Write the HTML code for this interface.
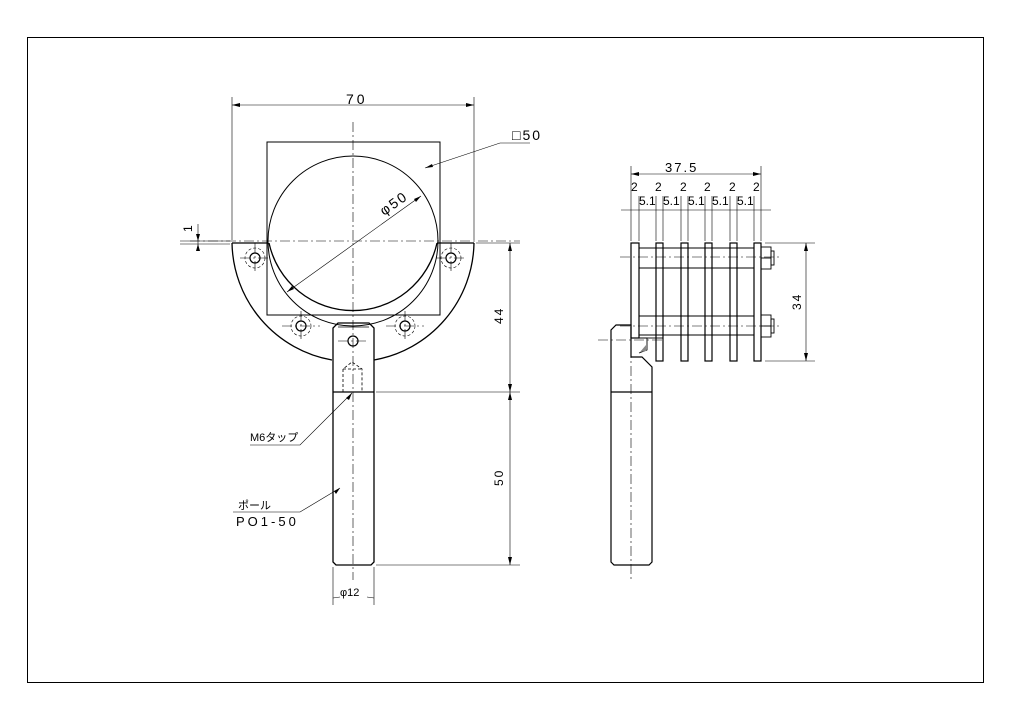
<!DOCTYPE html>
<html><head><meta charset="utf-8"><style>
html,body{margin:0;padding:0;background:#fff;}
svg{display:block;}
text{font-family:"Liberation Sans","Noto Sans CJK JP",sans-serif;font-size:12px;fill:#000;}
</style></head><body>
<svg width="1024" height="724" viewBox="0 0 1024 724" xmlns="http://www.w3.org/2000/svg">
<rect x="27.5" y="37.5" width="956" height="645" fill="none" stroke="#000" stroke-width="1"/>
<g fill="none" stroke="#000" stroke-width="1">
<rect x="267" y="142" width="173" height="173"/>
<circle cx="353" cy="241" r="85"/>
<path d="M269 243 A86 86 0 0 0 437 243" stroke-width="1.3"/>
<path d="M232 243 L268 243 M437 243 L474 243" stroke-width="1.3"/>
<path d="M232 243 A121 121 0 0 0 332 360 M374 360 A121 121 0 0 0 474 243" stroke-width="1.3"/>
<path d="M338 323 L369 323 L374 328 L374 562 L371 565 L336 565 L333 562 L333 328 Z" stroke-width="1.3"/>
<line x1="333" y1="392" x2="374" y2="392" stroke-width="1.3"/>
<line x1="338" y1="327" x2="369" y2="327" stroke-width="0.7"/>
<path d="M343 392 L343 369 L352 362 L362 369 L362 392 M343 369 L362 369" stroke-dasharray="3,2" stroke-width="0.8"/>
<circle cx="255" cy="258" r="5" stroke-width="1.2"/><circle cx="255" cy="258" r="10" stroke-dasharray="3,2" stroke-width="0.6"/>
<circle cx="451" cy="258" r="5" stroke-width="1.2"/><circle cx="451" cy="258" r="10" stroke-dasharray="3,2" stroke-width="0.6"/>
<circle cx="301" cy="326" r="5" stroke-width="1.2"/><circle cx="301" cy="326" r="10" stroke-dasharray="3,2" stroke-width="0.6"/>
<circle cx="405" cy="326" r="5" stroke-width="1.2"/><circle cx="405" cy="326" r="10" stroke-dasharray="3,2" stroke-width="0.6"/>
<circle cx="353" cy="341" r="5" stroke-width="1.2"/>
</g>
<g stroke="#000" stroke-width="0.6" stroke-dasharray="10,3,2,3" fill="none">
<line x1="353" y1="122" x2="353" y2="580"/>
<line x1="190" y1="241" x2="520" y2="241"/>
<line x1="240" y1="258" x2="270" y2="258"/><line x1="255" y1="243" x2="255" y2="273"/>
<line x1="436" y1="258" x2="466" y2="258"/><line x1="451" y1="243" x2="451" y2="273"/>
<line x1="282" y1="326" x2="320" y2="326"/><line x1="301" y1="311" x2="301" y2="341"/>
<line x1="386" y1="326" x2="424" y2="326"/><line x1="405" y1="311" x2="405" y2="341"/>
<line x1="338" y1="341" x2="368" y2="341"/>
</g>
<g stroke="#000" stroke-width="0.6" fill="none">
<line x1="232" y1="97" x2="232" y2="240"/><line x1="474" y1="97" x2="474" y2="240"/>
<line x1="232" y1="105" x2="474" y2="105"/>
<line x1="287" y1="292" x2="421" y2="196"/>
<polyline points="425,168 500,143 530,143"/>
<line x1="180" y1="241" x2="230" y2="241"/><line x1="180" y1="244" x2="230" y2="244"/>
<line x1="198" y1="224" x2="198" y2="250"/>
<line x1="476" y1="243" x2="520" y2="243"/><line x1="376" y1="392" x2="520" y2="392"/><line x1="376" y1="565" x2="520" y2="565"/>
<line x1="510" y1="243" x2="510" y2="565"/>
<line x1="333" y1="567" x2="333" y2="605"/><line x1="374" y1="567" x2="374" y2="605"/>
<line x1="333" y1="598" x2="340" y2="597"/><line x1="367" y1="597" x2="374" y2="598"/>
<polyline points="250,445 300,445 352,393"/>
<polyline points="233,512 300,512 340,488"/>
</g>
<g fill="#000">
<path d="M232 105 l8 -2 v4z M474 105 l-8 -2 v4z"/>
<path d="M510 243 l-2 8 h4z M510 392 l-2 -8 h4z M510 392 l-2 8 h4z M510 565 l-2 -8 h4z"/>
<path d="M198 241 l-2 -7 h4z M198 244 l-2 7 h4z"/>
<path d="M421 196 l-7 3 l2 3z M287 292 l7 -3 l-2 -3z M425 168 l7 -4 l1 3z M352 393 l-3 7 l-3 -2z M340 488 l-4 6 l-2 -3z"/>
</g>
<text x="346" y="104" style="font-size:14px;letter-spacing:3px">70</text>
<text x="512" y="140" style="font-size:14px;letter-spacing:2px">□50</text>
<text x="384" y="216" transform="rotate(-35 384 216)" style="font-size:14px;letter-spacing:2px">φ50</text>
<text x="192" y="232" transform="rotate(-90 192 232)">1</text>
<text x="503" y="324" transform="rotate(-90 503 324)" style="letter-spacing:2px">44</text>
<text x="503" y="486" transform="rotate(-90 503 486)" style="letter-spacing:2px">50</text>
<text x="340" y="596" style="font-size:11px">φ12</text>
<text x="250" y="441" style="font-size:11px">M6タップ</text>
<text x="238" y="509" style="font-size:11px">ポール</text>
<text x="236" y="526" style="font-size:13px;letter-spacing:3px">PO1-50</text>
<g fill="none" stroke="#000" stroke-width="1.2">
<path d="M616 325 L631 325 L631 357 L642 357 L652 367 L652 562 L649 565 L614 565 L611 562 L611 330 Z"/>
<line x1="611" y1="392" x2="652" y2="392"/>
<rect x="631" y="243" width="8" height="95"/>
<rect x="656" y="243" width="7" height="118"/>
<rect x="681" y="243" width="7" height="118"/>
<rect x="705" y="243" width="7" height="118"/>
<rect x="730" y="243" width="7" height="118"/>
<rect x="754" y="243" width="7" height="118"/>
<g stroke-width="0.9">
<line x1="639" y1="248" x2="754" y2="248"/><line x1="639" y1="268" x2="754" y2="268"/>
<line x1="639" y1="316" x2="754" y2="316"/><line x1="639" y1="335" x2="754" y2="335"/>
<rect x="761" y="247" width="10" height="22"/><rect x="771" y="251" width="3" height="14"/>
<rect x="761" y="315" width="10" height="22"/><rect x="771" y="319" width="3" height="14"/>
<line x1="761" y1="258" x2="771" y2="258"/><line x1="761" y1="326" x2="771" y2="326"/>
<polyline points="639,338 647,338 647,350 639,353"/>
<line x1="647" y1="338" x2="663" y2="338"/>
</g>
</g>
<path d="M640 352 L646 345 L646 351 Z" fill="#888"/>
<g stroke="#000" stroke-width="0.6" stroke-dasharray="10,3,2,3" fill="none">
<line x1="620" y1="257" x2="782" y2="257"/><line x1="620" y1="326" x2="782" y2="326"/>
<line x1="598" y1="340" x2="663" y2="340"/>
<line x1="631" y1="330" x2="631" y2="580"/>
</g>
<g stroke="#000" stroke-width="0.6" fill="none">
<line x1="631" y1="166" x2="631" y2="241"/><line x1="761" y1="166" x2="761" y2="241"/>
<line x1="631" y1="174" x2="761" y2="174"/>
<line x1="639" y1="196" x2="639" y2="241"/><line x1="656" y1="196" x2="656" y2="241"/><line x1="663" y1="196" x2="663" y2="241"/>
<line x1="681" y1="196" x2="681" y2="241"/><line x1="688" y1="196" x2="688" y2="241"/><line x1="705" y1="196" x2="705" y2="241"/>
<line x1="712" y1="196" x2="712" y2="241"/><line x1="730" y1="196" x2="730" y2="241"/><line x1="737" y1="196" x2="737" y2="241"/>
<line x1="754" y1="196" x2="754" y2="241"/>
<line x1="621" y1="210" x2="771" y2="210"/>
<line x1="765" y1="243" x2="815" y2="243"/><line x1="765" y1="361" x2="815" y2="361"/>
<line x1="806" y1="243" x2="806" y2="361"/>
</g>
<g fill="#000">
<path d="M631 174 l8 -2 v4z M761 174 l-8 -2 v4z M806 243 l-2 8 h4z M806 361 l-2 -8 h4z"/>
</g>
<text x="665" y="172" style="font-size:13px;letter-spacing:2px">37.5</text>
<g style="font-size:12px">
<text x="631" y="191">2</text><text x="655" y="191">2</text><text x="680" y="191">2</text><text x="704" y="191">2</text><text x="729" y="191">2</text><text x="753" y="191">2</text>
<text x="639" y="205">5.1</text><text x="663" y="205">5.1</text><text x="688" y="205">5.1</text><text x="712" y="205">5.1</text><text x="737" y="205">5.1</text>
</g>
<text x="801" y="310" transform="rotate(-90 801 310)" style="letter-spacing:2px">34</text>
</svg>
</body></html>
